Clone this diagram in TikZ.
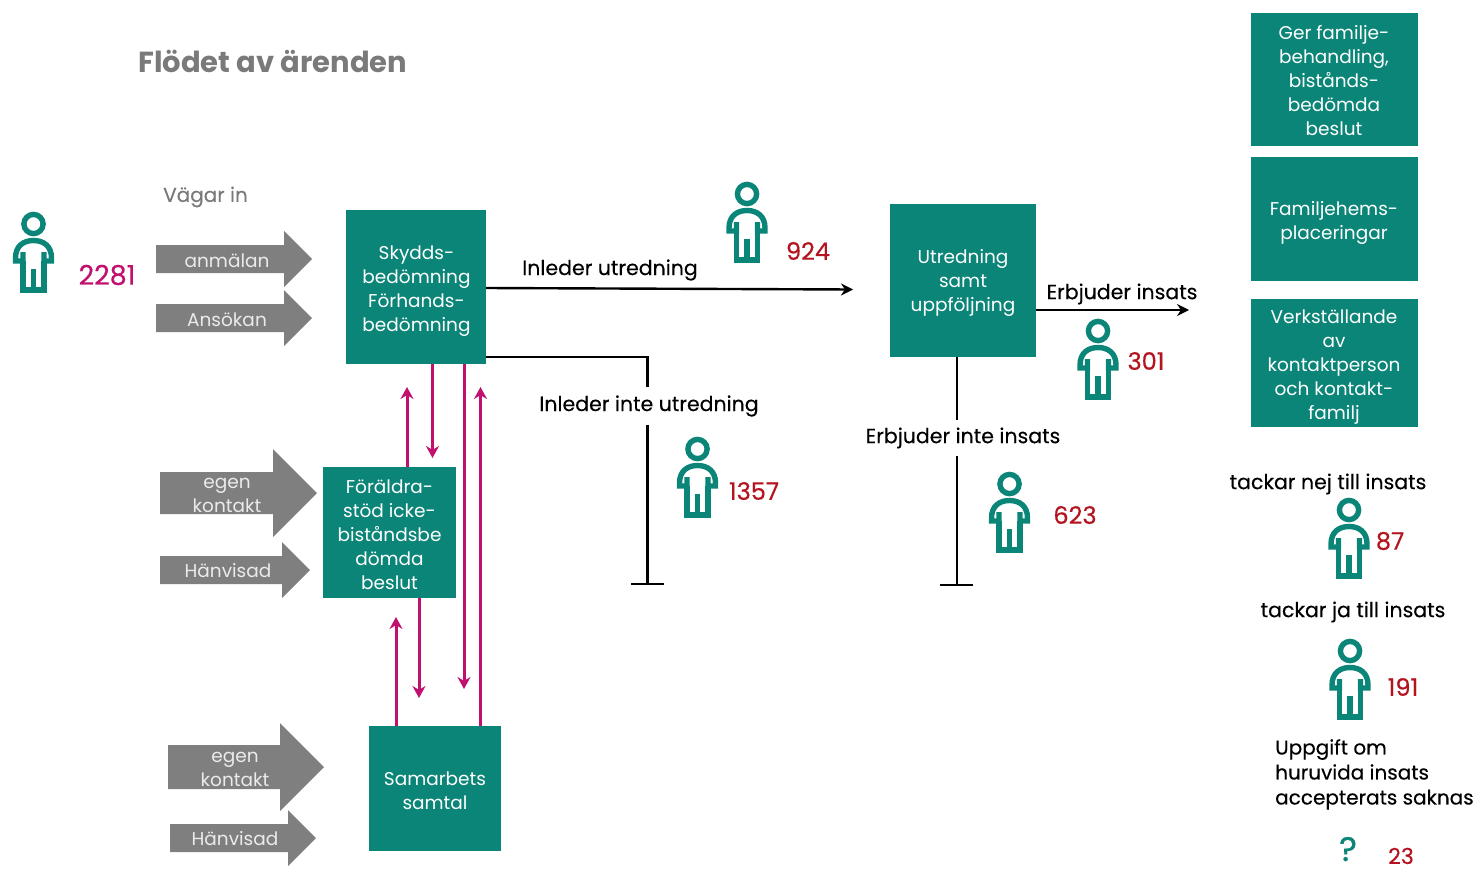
\documentclass[tikz,border=0pt]{standalone}
\usepackage{fontspec}
\setmainfont{Poppins}
\usetikzlibrary{arrows.meta}
\definecolor{tealbox}{HTML}{0B8578}
\definecolor{grayarr}{HTML}{7F7F7F}
\definecolor{magline}{HTML}{C2106F}
\definecolor{rednum}{HTML}{B3141F}
\definecolor{graytext}{HTML}{7A7A7A}
\tikzset{
  x=1pt,y=-1pt,
  boxtext/.style={text=white,inner sep=0pt,align=center,text depth=0pt,font=\fontsize{18.5}{24}\selectfont},
  arrtext/.style={text=white!92!black,inner sep=0pt,align=center,font=\fontsize{18.5}{24}\selectfont},
  blk/.style={text=black,inner sep=1pt,align=left,font=\fontsize{20.5}{25}\selectfont\addfontfeature{FakeBold=0.3}},
  num/.style={text=rednum,inner sep=0pt,font=\fontsize{24}{24}\selectfont\addfontfeature{FakeBold=0.4}},
  conn/.style={draw=black,line width=2.4pt},
  connarr/.style={conn,-{Stealth[length=12pt,width=12pt]}},
  mag/.style={draw=magline,line width=3pt,-{Stealth[length=12pt,width=13pt]}},
  person/.pic={
    \draw[tealbox,line width=5.4pt,line join=miter] (0,0) circle[radius=9.6];
    \draw[tealbox,line width=5.4pt,line join=miter]
      (-10.5,28) -- (-10.5,37) -- (-18,37) -- (-18,34)
      .. controls (-18,22) and (-10,16.5) .. (0,16.5)
      .. controls (10,16.5) and (18,22) .. (18,34)
      -- (18,37) -- (10.5,37) -- (10.5,28);
    \draw[tealbox,line width=5.4pt,line join=miter]
      (-10.5,37) -- (-10.5,66) -- (10.5,66) -- (10.5,37) (0,45) -- (0,66);
  }
}
\newcommand{\grayarrow}[6]{%
  \fill[grayarr] (#1,{#4-#5}) -- (#2,{#4-#5}) -- (#2,{#4-#6}) -- (#3,#4) -- (#2,{#4+#6}) -- (#2,{#4+#5}) -- (#1,{#4+#5}) -- cycle;}
\begin{document}
\begin{tikzpicture}
\useasboundingbox (0,0) rectangle (1477,870);
\clip (0,0) rectangle (1477,870);

% grey arrows
\grayarrow{156}{284}{312}{259}{14}{28}
\grayarrow{156}{284}{312}{318}{14}{28}
\grayarrow{160}{273}{317}{493}{21}{44}
\grayarrow{160}{282}{310}{570}{14}{28}
\grayarrow{168}{280}{324}{767}{22}{44}
\grayarrow{170}{288}{316}{838}{14}{28}
\node[arrtext] (a1) at (227,261) {anmälan};
\node[arrtext] (a2) at (227,320) {Ansökan};
\node[arrtext] (a3) at (227,495) {egen\\kontakt};
\node[arrtext] (a4) at (228,571) {Hänvisad};
\node[arrtext] (a5) at (235,769) {egen\\kontakt};
\node[arrtext] (a6) at (235,839) {Hänvisad};

% boxes
\node[fill=tealbox,minimum width=140pt,minimum height=154pt] (skydd) at (416,287) {};
\node[fill=tealbox,minimum width=133pt,minimum height=131pt] (foer) at (389.5,532.5) {};
\node[fill=tealbox,minimum width=132pt,minimum height=125pt] (samt) at (435,788.5) {};
\node[fill=tealbox,minimum width=146pt,minimum height=153pt] (utr) at (963,280.5) {};
\node[fill=tealbox,minimum width=167pt,minimum height=133pt] (ger) at (1334.5,79.5) {};
\node[fill=tealbox,minimum width=167pt,minimum height=124pt] (fam) at (1334.5,219) {};
\node[fill=tealbox,minimum width=167pt,minimum height=128pt] (verk) at (1334.5,363) {};
\node[boxtext] (skyddt) at (416.5,289) {Skydds-\\bedömning\\Förhands-\\bedömning};
\node[boxtext] (foert) at (389.5,535) {Föräldra-\\stöd icke-\\biståndsbe\\dömda\\beslut};
\node[boxtext] (samtt) at (435,791) {Samarbets\\samtal};
\node[boxtext] (utrt) at (963,280) {Utredning\\samt\\uppföljning};
\node[boxtext] (gert) at (1334,80) {Ger familje-\\behandling,\\bistånds-\\bedömda\\beslut};
\node[boxtext] (famt) at (1334,220) {Familjehems-\\placeringar};
\node[boxtext] (verkt) at (1334,365) {Verkställande\\av\\kontaktperson\\och kontakt-\\familj};

% free ends
\coordinate (e1) at (853,289.5);
\coordinate (e2) at (1189,310);
\coordinate (t1) at (647.5,584);
\coordinate (t1l) at (631,584);
\coordinate (t1r) at (664,584);
\coordinate (t2) at (957,585);
\coordinate (t2l) at (940,585);
\coordinate (t2r) at (973,585);

% black connectors
\draw[connarr] (486,288) -- (e1);
\draw[connarr] (utr.east |- e2) -- (e2);
\draw[conn] (486,357) -| (t1);
\draw[conn] (t1l) -- (t1r);
\draw[conn] (utr.south -| t2) -- (t2);
\draw[conn] (t2l) -- (t2r);

% magenta connectors
\draw[mag] (foer.north -| 407,0) -- (407,387);
\draw[mag] (skydd.south -| 432.5,0) -- (432.5,458);
\draw[mag] (skydd.south -| 464,0) -- (464,689);
\draw[mag] (samt.north -| 480.5,0) -- (480.5,387);
\draw[mag] (samt.north -| 396,0) -- (396,617);
\draw[mag] (foer.south -| 419,0) -- (419,698);

% labels
\node[inner sep=0pt,anchor=west,text=graytext,font=\fontsize{29}{32}\selectfont\bfseries] (title) at (138,61) {Flödet av ärenden};
\node[inner sep=0pt,anchor=west,text=graytext,font=\fontsize{20}{24}\selectfont\addfontfeature{FakeBold=0.3}] (vagar) at (163,197) {Vägar in};
\node[blk] (l1) at (610,270) {Inleder utredning};
\node[blk,fill=white,inner ysep=8pt] (l2) at (649,406) {Inleder inte utredning};
\node[blk] (l3) at (1122,294) {Erbjuder insats};
\node[blk,fill=white,inner ysep=8pt] (l4) at (963,438) {Erbjuder inte insats};
\node[blk] (l5) at (1328,484) {tackar nej till insats};
\node[blk] (l6) at (1353,612) {tackar ja till insats};
\node[blk,anchor=north west,inner sep=0pt,font=\fontsize{20}{25}\selectfont\addfontfeature{FakeBold=0.3}] (l7) at (1275,739) {Uppgift om\\huruvida insats\\accepterats saknas};

% numbers
\node[num,text=magline,font=\fontsize{27}{27}\selectfont\addfontfeature{FakeBold=0.4}] (n0) at (107,275) {2281};
\node[num] (n1) at (808,251) {924};
\node[num] (n2) at (1146,361) {301};
\node[num] (n3) at (754,491) {1357};
\node[num] (n4) at (1075,515) {623};
\node[num] (n5) at (1390,541) {87};
\node[num] (n6) at (1403,687) {191};
\node[num,font=\fontsize{22}{22}\selectfont\addfontfeature{FakeBold=0.4},anchor=base,text depth=0pt] (n7) at (1401,864) {23};
\node[inner sep=0pt,text=tealbox,anchor=base,text depth=0pt,font=\fontsize{34}{34}\selectfont\addfontfeature{FakeBold=0.8}] (q) at (1348,861) {?};

% people
\pic at (33.5,224) {person};
\pic at (747,194) {person};
\pic at (1098,331) {person};
\pic at (697.5,449) {person};
\pic at (1009.5,484) {person};
\pic at (1349,510) {person};
\pic at (1350,651) {person};
\end{tikzpicture}
\end{document}
